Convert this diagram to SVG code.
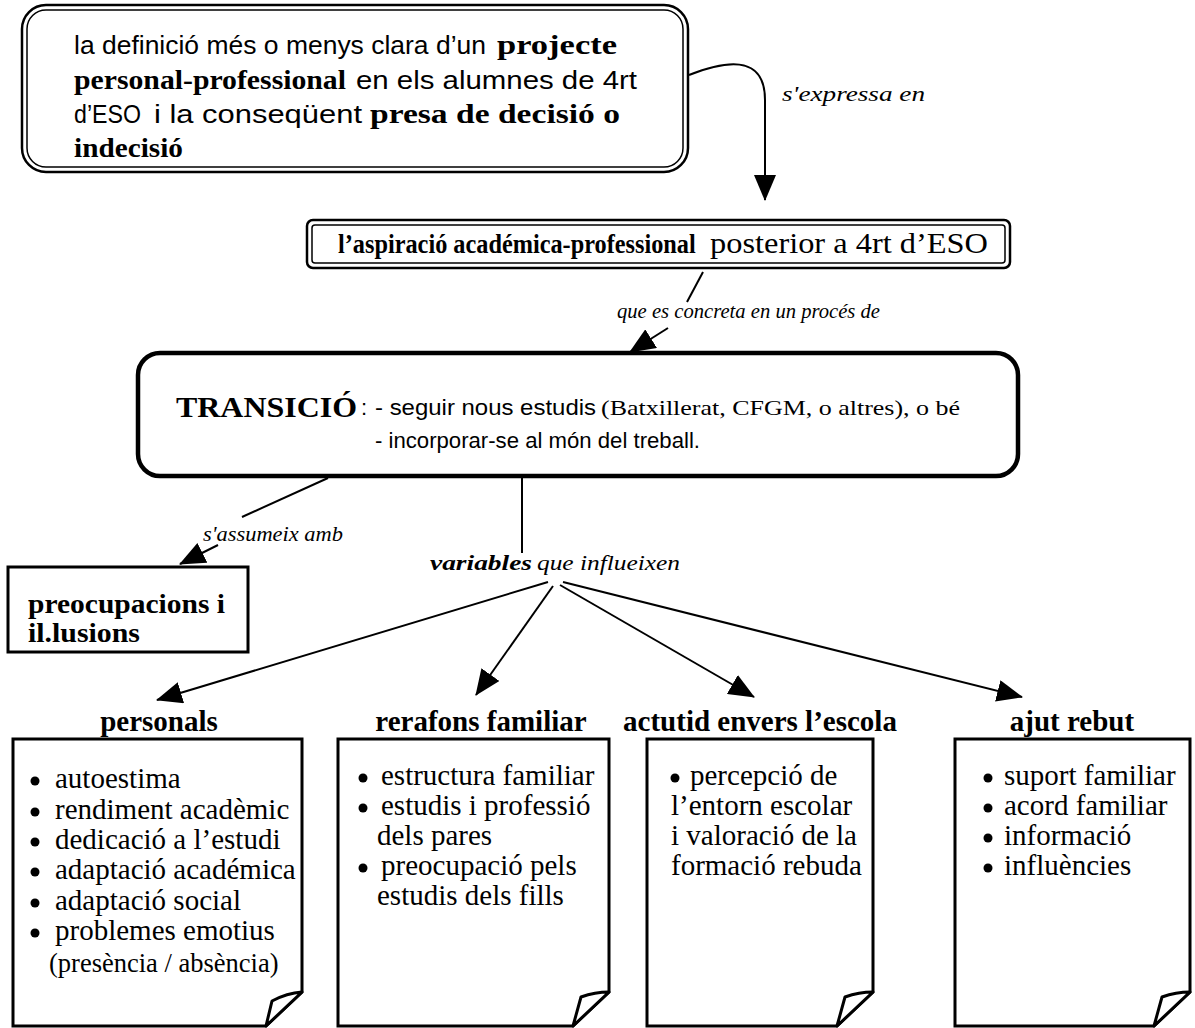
<svg xmlns="http://www.w3.org/2000/svg" width="1195" height="1028" viewBox="0 0 1195 1028">
<defs>
<style>
.sans{font-family:"Liberation Sans",Arial,sans-serif;fill:#000}
.serif{font-family:"Liberation Serif","Times New Roman",serif;fill:#000}
.b{font-weight:bold}
.i{font-style:italic}
.t25{font-size:25px}
.t27{font-size:27px}
.lbl{font-size:21px}
.head{font-family:"Liberation Serif","Times New Roman",serif;font-weight:bold;font-size:29px;fill:#000;text-anchor:middle}
.item{font-family:"Liberation Serif","Times New Roman",serif;font-size:29px;fill:#000}
.edge{fill:none;stroke:#000;stroke-width:2}
.page{fill:#fff;stroke:#000;stroke-width:3}
.curl{fill:#fff;stroke:#000;stroke-width:3;stroke-linejoin:round}
</style>
<marker id="ah" markerUnits="userSpaceOnUse" markerWidth="26" markerHeight="22" refX="25" refY="11" orient="auto">
<path d="M0,0 L26,11 L0,22 z" fill="#000"/>
</marker>
</defs>

<g id="connectors">
<path class="edge" d="M689,75 C722,62 765,52 765,100 L765,200" marker-end="url(#ah)"/>
<text class="serif i lbl" x="782" y="101" textLength="143" lengthAdjust="spacingAndGlyphs">s'expressa en</text>
<path class="edge" d="M703,272 L687,302"/>
<path class="edge" d="M668,328 L630,352" marker-end="url(#ah)"/>
<text class="serif i lbl" x="617" y="318" textLength="263" lengthAdjust="spacingAndGlyphs">que es concreta en un procés de</text>
<path class="edge" d="M328,478 L242,517"/>
<text class="serif i lbl" x="203" y="541" textLength="140" lengthAdjust="spacingAndGlyphs">s'assumeix amb</text>
<path class="edge" d="M218,545 L180,564" marker-end="url(#ah)"/>
<path class="edge" d="M522,478 L522,553"/>
<text class="serif b i lbl" x="430" y="570" textLength="102" lengthAdjust="spacingAndGlyphs">variables</text>
<text class="serif i lbl" x="537" y="570" textLength="143" lengthAdjust="spacingAndGlyphs">que influeixen</text>
<path class="edge" d="M548,582 L157,700" marker-end="url(#ah)"/>
<path class="edge" d="M553,586 L476,695" marker-end="url(#ah)"/>
<path class="edge" d="M560,585 L754,697" marker-end="url(#ah)"/>
<path class="edge" d="M563,582 L1022,697" marker-end="url(#ah)"/>
</g>

<g id="node-projecte">
<rect x="22" y="5" width="666" height="167" rx="24" fill="#fff" stroke="#000" stroke-width="2.5"/>
<rect x="27" y="10" width="656" height="157" rx="19" fill="none" stroke="#000" stroke-width="1.5"/>
<text class="sans t25" x="74" y="54" textLength="412" lengthAdjust="spacingAndGlyphs">la definició més o menys clara d’un</text>
<text class="serif b t27" x="497" y="54" textLength="120" lengthAdjust="spacingAndGlyphs">projecte</text>
<text class="serif b t27" x="74" y="89" textLength="272" lengthAdjust="spacingAndGlyphs">personal-professional</text>
<text class="sans t25" x="356" y="89" textLength="281" lengthAdjust="spacingAndGlyphs">en els alumnes de 4rt</text>
<text class="sans t25" x="74" y="123" textLength="67" lengthAdjust="spacingAndGlyphs">d’ESO</text>
<text class="sans t25" x="154" y="123" textLength="208" lengthAdjust="spacingAndGlyphs">i la conseqüent</text>
<text class="serif b t27" x="370" y="123" textLength="250" lengthAdjust="spacingAndGlyphs">presa de decisió o</text>
<text class="serif b t27" x="74" y="157" textLength="109" lengthAdjust="spacingAndGlyphs">indecisió</text>
</g>

<g id="node-aspiracio">
<rect x="307" y="220" width="703" height="48" rx="6" fill="#fff" stroke="#000" stroke-width="2.5"/>
<rect x="312" y="225" width="693" height="38" rx="3" fill="none" stroke="#000" stroke-width="1.5"/>
<text class="serif b t27" transform="translate(338,253) scale(0.9,1)" x="0" y="0">l’aspiració académica-professional</text>
<text class="serif" font-size="29" x="710" y="253" textLength="278" lengthAdjust="spacingAndGlyphs">posterior a 4rt d’ESO</text>
</g>

<g id="node-transicio">
<rect x="138" y="353" width="880" height="123" rx="22" fill="#fff" stroke="#000" stroke-width="4.5"/>
<text class="serif b" font-size="30" x="176" y="417" textLength="181" lengthAdjust="spacingAndGlyphs">TRANSICIÓ</text>
<text class="sans" font-size="22" x="361" y="415">:</text>
<text class="sans" font-size="22" x="375" y="415" textLength="221" lengthAdjust="spacingAndGlyphs">- seguir nous estudis</text>
<text class="serif" font-size="21" x="601" y="415" textLength="359" lengthAdjust="spacingAndGlyphs">(Batxillerat, CFGM, o altres), o bé</text>
<text class="sans" font-size="22" x="375" y="448" textLength="325" lengthAdjust="spacingAndGlyphs">- incorporar-se al món del treball.</text>
</g>

<g id="node-preocupacions">
<rect x="8" y="567" width="240" height="85" fill="#fff" stroke="#000" stroke-width="3"/>
<text class="serif b t27" x="28" y="613" textLength="197" lengthAdjust="spacingAndGlyphs">preocupacions i</text>
<text class="serif b t27" x="28" y="642" textLength="112" lengthAdjust="spacingAndGlyphs">il.lusions</text>
</g>

<g id="node-personals">
<text class="head" x="159" y="731">personals</text>
<path class="page" d="M13,739 H302 V992 L266,1026 H13 Z"/>
<path class="curl" d="M272,1001 Q287,993 302,992 L266,1026 Z"/>
<g class="item">
<circle cx="35" cy="781" r="4.5"/><text x="55" y="788">autoestima</text>
<circle cx="35" cy="812" r="4.5"/><text x="55" y="819">rendiment acadèmic</text>
<circle cx="35" cy="842" r="4.5"/><text x="55" y="849">dedicació a l’estudi</text>
<circle cx="35" cy="872" r="4.5"/><text x="55" y="879">adaptació académica</text>
<circle cx="35" cy="903" r="4.5"/><text x="55" y="910">adaptació social</text>
<circle cx="35" cy="933" r="4.5"/><text x="55" y="940">problemes emotius</text>
<text x="49" y="972" font-size="26.5">(presència / absència)</text>
</g>
</g>

<g id="node-rerafons">
<text class="head" x="481" y="731">rerafons familiar</text>
<path class="page" d="M338,739 H609 V992 L573,1026 H338 Z"/>
<path class="curl" d="M581,997 Q595,992 609,992 L573,1026 Z"/>
<g class="item">
<circle cx="363" cy="778" r="4.5"/><text x="381" y="785">estructura familiar</text>
<circle cx="363" cy="808" r="4.5"/><text x="381" y="815">estudis i professió</text>
<text x="377" y="845">dels pares</text>
<circle cx="363" cy="868" r="4.5"/><text x="381" y="875">preocupació pels</text>
<text x="377" y="905">estudis dels fills</text>
</g>
</g>

<g id="node-actitud">
<text class="head" x="760" y="731">actutid envers l’escola</text>
<path class="page" d="M647,739 H873 V992 L837,1026 H647 Z"/>
<path class="curl" d="M845,997 Q859,992 873,992 L837,1026 Z"/>
<g class="item">
<circle cx="675" cy="778" r="4.5"/><text x="690" y="785">percepció de</text>
<text x="671" y="815">l’entorn escolar</text>
<text x="671" y="845">i valoració de la</text>
<text x="671" y="875">formació rebuda</text>
</g>
</g>

<g id="node-ajut">
<text class="head" x="1072" y="731">ajut rebut</text>
<path class="page" d="M955,739 H1190 V992 L1154,1026 H955 Z"/>
<path class="curl" d="M1162,997 Q1176,992 1190,992 L1154,1026 Z"/>
<g class="item">
<circle cx="988" cy="778" r="4.5"/><text x="1004" y="785">suport familiar</text>
<circle cx="988" cy="808" r="4.5"/><text x="1004" y="815">acord familiar</text>
<circle cx="988" cy="838" r="4.5"/><text x="1004" y="845">informació</text>
<circle cx="988" cy="868" r="4.5"/><text x="1004" y="875">influències</text>
</g>
</g>
</svg>
